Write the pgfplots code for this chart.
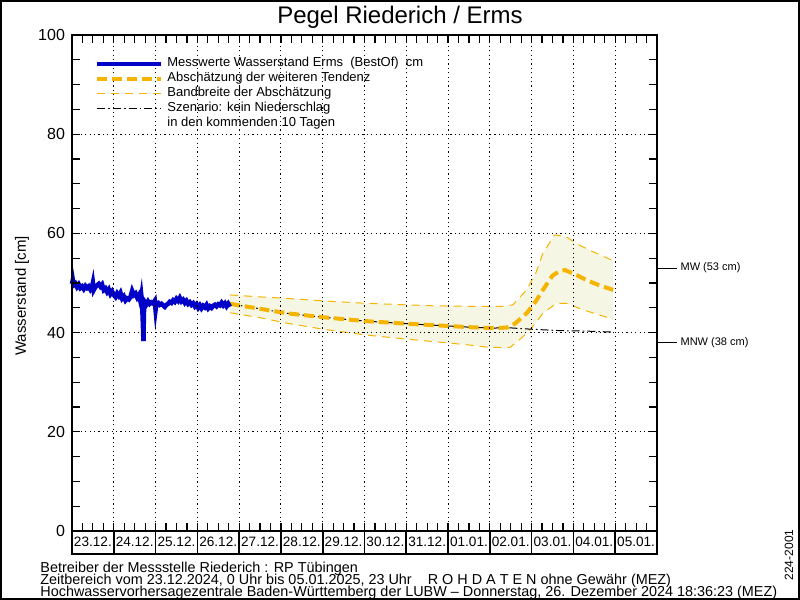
\documentclass[border=0pt]{standalone}
\usepackage{fontspec}
\setmainfont{Liberation Sans}
\usepackage{pgfplots}
\pgfplotsset{compat=1.18}
\definecolor{mblue}{RGB}{0,0,200}
\definecolor{morange}{RGB}{245,180,0}
\definecolor{mband}{RGB}{246,246,228}
\begin{document}
\begin{tikzpicture}
\path[use as bounding box] (0,0) rectangle (400pt,300pt);
\draw[line width=0.8pt] (0.4pt,0.4pt) rectangle (399.6pt,299.6pt);
\node[font=\fontsize{12}{14}\selectfont] at (200pt,291.5pt) {Pegel Riederich / Erms};
\begin{axis}[
  name=ax,
  at={(36pt,34.5pt)}, anchor=south west,
  scale only axis, width=292.5pt, height=248pt,
  xmin=0, xmax=14, ymin=0, ymax=100,
  clip=false,
  axis on top,
  axis line style={line width=0.8pt},
  xtick={0,1,...,14}, xticklabels={},
  minor x tick num=3,
  ytick={0,20,...,100},
  minor y tick num=3,
  xmajorgrids, ymajorgrids,
  major grid style={black, line width=0.5pt, dash pattern=on 0.6pt off 1.6pt},
  tick align=inside,
  major tick length=4pt, minor tick length=4pt,
  tick style={black, line width=0.6pt},
  /pgf/number format/assume math mode=true,
  yticklabel style={font=\fontsize{8}{9}\selectfont},
  extra x ticks={0.5,1.5,...,13.5},
  extra x tick labels={23.12.,24.12.,25.12.,26.12.,27.12.,28.12.,29.12.,30.12.,31.12.,01.01.,02.01.,03.01.,04.01.,05.01.},
  extra x tick style={major tick length=0pt, grid=none, minor tick num=0,
     xticklabel style={anchor=center, yshift=-5.5pt, font=\fontsize{6.8}{8}\selectfont}},
  ylabel={Wasserstand [cm]},
  ylabel style={at={(axis description cs:-0.0855,0.474)}, anchor=center, font=\fontsize{7.5}{9}\selectfont},
  legend style={at={(rel axis cs:0,1)}, anchor=north west, xshift=8.5pt, yshift=-7pt,
     draw=none, fill=none, font=\fontsize{6.5}{7.5}\selectfont, row sep=-2.75pt,
     cells={anchor=west}},
  legend image code/.code={\draw[#1] (0pt,0pt) -- (32pt,0pt);},
]
% band fill
\addplot[fill=mband, draw=none, forget plot] coordinates {
(3.78,47.6) (4.5,47.2) (5.14,46.9) (6.0,46.4) (7.05,45.9) (8.0,45.6) (8.64,45.4) (9.5,45.3) (10.3,45.3) (10.55,45.6) (10.88,48.6) (11.1,52.0) (11.27,56.0) (11.55,59.7) (11.83,59.3) (12.08,57.9) (12.47,56.3) (12.95,54.5)
(12.95,42.7) (12.6,43.6) (12.23,44.6) (11.83,45.9) (11.59,45.9) (11.27,43.9) (10.96,40.5) (10.7,38.5) (10.48,37.0) (10.0,37.0) (9.5,37.5) (8.64,38.2) (8.0,38.7) (7.05,39.5) (6.0,40.7) (5.14,41.9) (4.5,43.0) (3.78,44.0)
} -- cycle;
% band edges
\addplot[morange, line width=0.5pt, dash pattern=on 4pt off 3pt, forget plot] coordinates {
(3.78,47.6) (4.5,47.2) (5.14,46.9) (6.0,46.4) (7.05,45.9) (8.0,45.6) (8.64,45.4) (9.5,45.3) (10.3,45.3) (10.55,45.6) (10.88,48.6) (11.1,52.0) (11.27,56.0) (11.55,59.7) (11.83,59.3) (12.08,57.9) (12.47,56.3) (12.95,54.5)};
\addplot[morange, line width=0.5pt, dash pattern=on 4pt off 3pt, forget plot] coordinates {
(3.78,44.0) (4.5,43.0) (5.14,41.9) (6.0,40.7) (7.05,39.5) (8.0,38.7) (8.64,38.2) (9.5,37.5) (10.0,37.0) (10.48,37.0) (10.7,38.5) (10.96,40.5) (11.27,43.9) (11.59,45.9) (11.83,45.9) (12.23,44.6) (12.6,43.6) (12.95,42.7)};
% scenario no precipitation
\addplot[black, line width=0.5pt, dash pattern=on 4pt off 1.5pt on 0.8pt off 1.5pt, forget plot] coordinates {
(3.78,45.8) (4.5,44.8) (5.14,43.9) (6.0,43.1) (7.05,42.3) (8.0,41.8) (8.64,41.5) (9.5,41.1) (10.07,40.9) (10.4,41.0) (10.96,40.7) (11.67,40.4) (12.3,40.3) (12.95,40.1)};
% forecast
\addplot[morange, line width=2pt, dash pattern=on 5pt off 2.5pt, forget plot] coordinates {
(3.78,45.8) (4.5,44.8) (5.14,43.9) (6.0,43.1) (7.05,42.3) (8.0,41.8) (8.64,41.5) (9.5,41.1) (10.07,40.9) (10.4,41.0) (10.6,41.8) (10.88,43.9) (11.1,46.3) (11.27,48.6) (11.5,51.5) (11.67,52.4) (11.8,52.6) (11.91,52.2) (12.1,51.5) (12.31,50.6) (12.6,49.6) (12.95,48.6)};
% measured
\addplot[mblue, line width=2.3pt, forget plot] coordinates {
(0.00,49.8) (0.02,50.6) (0.04,49.6) (0.08,49.9) (0.12,49.2) (0.16,49.7) (0.20,49.0) (0.24,49.3) (0.28,48.8) (0.32,49.4) (0.36,49.0) (0.40,49.3) (0.44,48.7) (0.48,49.2) (0.50,50.0) (0.52,48.6) (0.56,49.2) (0.60,49.5) (0.64,49.8) (0.68,49.3) (0.72,49.7) (0.76,48.6) (0.80,48.9) (0.84,48.2) (0.88,48.7) (0.92,47.8) (0.96,48.3) (1.00,47.6) (1.04,47.2) (1.08,47.9) (1.12,47.4) (1.16,48.0) (1.20,46.9) (1.24,47.3) (1.28,46.5) (1.32,46.9) (1.36,46.7) (1.40,47.2) (1.44,48.4) (1.48,47.6) (1.52,47.9) (1.56,47.1) (1.60,47.6) (1.64,46.2) (1.66,47.3) (1.68,45.6) (1.70,41.0) (1.71,38.3) (1.72,44.0) (1.74,46.2) (1.78,45.7) (1.82,46.3) (1.86,45.8) (1.90,46.1) (1.94,45.9) (1.98,46.4) (2.00,44.6) (2.02,45.9) (2.06,46.0) (2.10,45.6) (2.14,45.8) (2.18,45.5) (2.22,45.2) (2.26,45.6) (2.30,45.8) (2.34,46.2) (2.38,46.0) (2.42,46.5) (2.46,46.2) (2.50,46.8) (2.54,46.4) (2.58,47.0) (2.62,46.3) (2.66,46.6) (2.70,46.0) (2.74,46.4) (2.78,45.8) (2.82,46.1) (2.86,45.6) (2.90,45.9) (2.94,45.3) (2.98,45.7) (3.02,45.0) (3.06,45.5) (3.10,44.9) (3.14,45.4) (3.18,45.1) (3.22,45.6) (3.26,44.9) (3.30,45.3) (3.34,45.0) (3.38,45.4) (3.42,45.6) (3.46,45.3) (3.50,45.7) (3.54,45.5) (3.58,46.0) (3.62,45.5) (3.66,45.9) (3.70,45.3) (3.74,45.8) (3.78,45.2)};
\addlegendimage{mblue, line width=2pt}
\addlegendentry{Messwerte Wasserstand Erms\ \ (BestOf)\ \ cm}
\addlegendimage{morange, line width=2pt, dash pattern=on 5pt off 2.5pt}
\addlegendentry{Abschätzung der weiteren Tendenz}
\addlegendimage{morange, line width=0.5pt, dash pattern=on 4pt off 3pt}
\addlegendentry{Bandbreite der Abschätzung}
\addlegendimage{black, line width=0.5pt, dash pattern=on 4pt off 1.5pt on 0.8pt off 1.5pt}
\addlegendentry{Szenario: kein Niederschlag}
\addlegendimage{empty legend}
\addlegendentry{in den kommenden 10 Tagen}
\draw[line width=0.6pt] (axis cs:14,53) -- ++(10pt,0) node[right, inner sep=1.5pt, font=\fontsize{5.5}{6.5}\selectfont] {MW (53 cm)};
\draw[line width=0.6pt] (axis cs:14,38) -- ++(10pt,0) node[right, inner sep=1.5pt, font=\fontsize{5.5}{6.5}\selectfont] {MNW (38 cm)};
\end{axis}
\draw[line width=0.8pt] (ax.south west) -- ++(0,-11.5pt) -- ([yshift=-11.5pt]ax.south east) -- (ax.south east);
\foreach \d in {1,...,13} \draw[line width=0.8pt] ([xshift=\d*20.892857pt]ax.south west) -- ++(0,-11.5pt);
\begin{scope}[font=\fontsize{7.2}{8}\selectfont]
\node[anchor=west, inner sep=0pt] at (20pt,15.5pt) {Betreiber der Messstelle Riederich : RP Tübingen};
\node[anchor=west, inner sep=0pt] at (20pt,9.5pt) {Zeitbereich vom 23.12.2024, 0 Uhr bis 05.01.2025, 23 Uhr\ \ \ \ R O H D A T E N ohne Gewähr (MEZ)};
\node[anchor=west, inner sep=0pt] at (20pt,3.5pt) {Hochwasservorhersagezentrale Baden-Württemberg der LUBW – Donnerstag, 26. Dezember 2024 18:36:23 (MEZ)};
\end{scope}
\node[rotate=90, font=\fontsize{6}{7}\selectfont] at (394.5pt,22.5pt) {224-2001};
\end{tikzpicture}
\end{document}
